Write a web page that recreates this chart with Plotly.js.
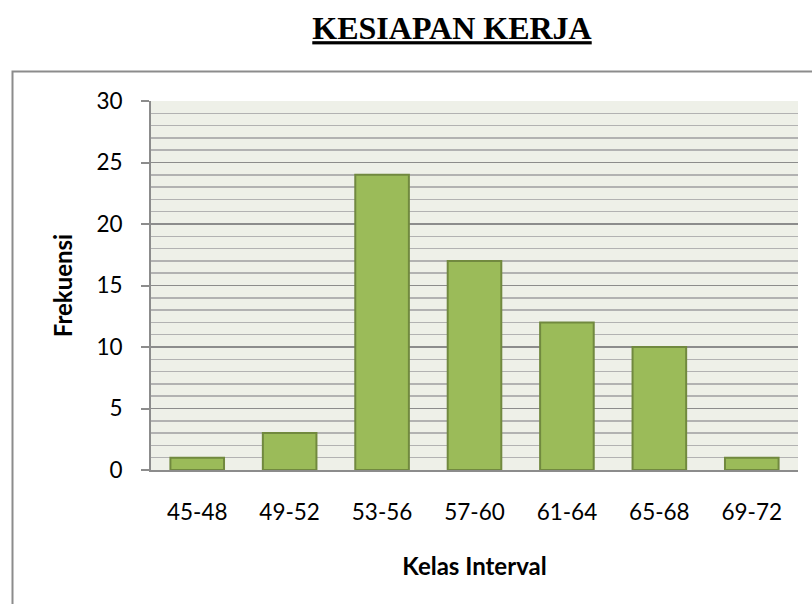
<!DOCTYPE html>
<html>
<head>
<meta charset="utf-8">
<script src="https://cdn.plot.ly/plotly-3.0.1.min.js"></script>
<style>
  html, body { margin: 0; padding: 0; background: #ffffff; }
  #chart { width: 812px; height: 604px; }
</style>
</head>
<body>
<div id="chart"></div>
<script>
const categories = ['45-48', '49-52', '53-56', '57-60', '61-64', '65-68', '69-72'];
const frequencies = [1, 3, 24, 17, 12, 10, 1];
const chartTitle = 'KESIAPAN KERJA';
const xTitle = 'Kelas Interval';
const yTitle = 'Frekuensi';

const trace = {
  type: 'bar',
  x: categories,
  y: frequencies,
  width: 0.58,
  marker: {
    color: '#9BBB59',
    line: { color: '#71893F', width: 2 }
  },
  hoverinfo: 'x+y'
};

const W = 812, H = 604;
const m = { l: 151, r: 14, t: 101, b: 134 };
const pw = W - m.l - m.r, ph = H - m.t - m.b;
const px = v => (v - m.l) / pw;
const py = v => (H - m.b - v) / ph;

const layout = {
  width: W,
  height: H,
  margin: m,
  paper_bgcolor: '#ffffff',
  plot_bgcolor: '#EEF0E8',
  font: { family: 'Lato, "Open Sans", sans-serif', size: 22, color: '#000000' },
  showlegend: false,
  bargap: 0.42,
  title: {
    text: '<b><u>' + chartTitle + '</u></b>',
    font: { family: '"Liberation Serif", "Times New Roman", serif', size: 32, color: '#000000' },
    x: 452 / W,
    xanchor: 'center',
    xref: 'container',
    y: 1 - 28 / H,
    yanchor: 'middle',
    yref: 'container'
  },
  xaxis: {
    type: 'category',
    range: [-0.5, 6.5],
    showline: true,
    linecolor: '#8c8c8c',
    linewidth: 2,
    ticks: '',
    showgrid: false,
    zeroline: false,
    ticklabelstandoff: 21,
    tickfont: { size: 22.5 },
    title: {
      text: '<b>' + xTitle + '</b>',
      font: { size: 24 },
      standoff: 34
    }
  },
  yaxis: {
    range: [0, 30],
    dtick: 5,
    tick0: 0,
    showline: true,
    linecolor: '#8c8c8c',
    linewidth: 2,
    ticks: 'outside',
    ticklen: 8,
    tickwidth: 2,
    tickcolor: '#8c8c8c',
    showgrid: true,
    gridcolor: '#8c8c8c',
    gridwidth: 1.5,
    zeroline: false,
    ticklabelstandoff: 14,
    tickfont: { size: 22.5 },
    minor: {
      dtick: 1,
      showgrid: true,
      gridcolor: '#b2b2b2',
      gridwidth: 1.5,
      ticks: ''
    },
    title: {
      text: '<b>' + yTitle + '</b>',
      font: { size: 24 },
      standoff: 17
    }
  },
  shapes: [{
    type: 'rect',
    xref: 'paper', yref: 'paper',
    x0: px(12.5), x1: px(830),
    y0: py(71.5), y1: py(640),
    line: { color: '#8c8c8c', width: 2 },
    fillcolor: 'rgba(0,0,0,0)',
    layer: 'below'
  }]
};

Plotly.newPlot('chart', [trace], layout, { displayModeBar: false, staticPlot: true });
</script>
</body>
</html>
